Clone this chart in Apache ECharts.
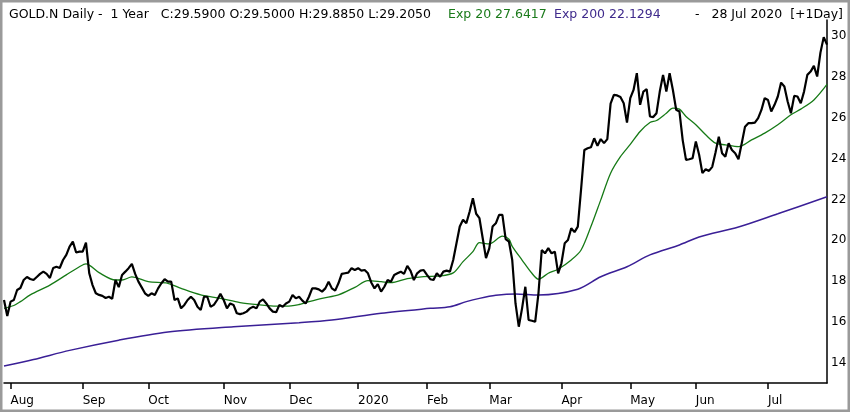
<!DOCTYPE html>
<html><head><meta charset="utf-8">
<script src="https://cdn.jsdelivr.net/npm/echarts@6/dist/echarts.min.js"></script>
<style>html,body{margin:0;padding:0;background:#fff}#c{width:850px;height:412px}</style>
</head><body><div id="c"></div>
<script>
// ---- data ----
const startDate = '2019-07-30';
const endDate = '2020-07-28';
const holidays = ['2019-09-02','2019-11-28','2019-12-25','2020-01-01','2020-01-20','2020-02-17','2020-04-10','2020-05-25','2020-07-03'];
const monthLabels = ['', 'Feb', 'Mar', 'Apr', 'May', 'Jun', 'Jul', 'Aug', 'Sep', 'Oct', 'Nov', 'Dec'];
const yTickLabels = [14, 16, 18, 20, 22, 24, 26, 28, 30];

const headerMain = 'GOLD.N Daily -  1 Year   C:29.5900 O:29.5000 H:29.8850 L:29.2050';
const headerExp20 = 'Exp 20 27.6417';
const headerExp200 = 'Exp 200 22.1294';
const headerDate = '-   28 Jul 2020  [+1Day]';

const closeVals = [
 17.07,16.29,16.99,17.07,17.56,17.66,18.05,18.20,18.10,18.05,
 18.20,18.35,18.46,18.35,18.15,18.64,18.70,18.64,19.03,19.28,
 19.69,19.93,19.40,19.44,19.44,19.88,18.38,17.80,17.40,17.32,
 17.27,17.17,17.23,17.13,18.05,17.70,18.30,18.46,18.63,18.84,
 18.35,17.97,17.69,17.40,17.27,17.40,17.32,17.64,17.89,18.09,
 17.97,17.97,17.07,17.15,16.66,16.83,17.07,17.23,17.07,16.74,
 16.58,17.23,17.23,16.74,16.83,17.07,17.37,17.07,16.66,16.90,
 16.83,16.42,16.38,16.42,16.50,16.66,16.74,16.66,16.99,17.10,
 16.90,16.66,16.50,16.47,16.83,16.74,16.90,16.99,17.32,17.15,
 17.23,17.04,16.90,17.23,17.64,17.64,17.59,17.48,17.64,17.97,
 17.64,17.53,17.89,18.35,18.38,18.41,18.63,18.54,18.63,18.51,
 18.54,18.38,17.93,17.64,17.85,17.48,17.72,18.05,17.97,18.30,
 18.38,18.46,18.35,18.74,18.50,18.05,18.38,18.51,18.54,18.30,
 18.09,18.05,18.38,18.21,18.46,18.51,18.46,19.03,19.85,20.67,
 21.00,20.83,21.40,22.06,21.30,21.08,20.10,19.12,19.60,20.67,
 20.83,21.24,21.24,20.05,19.93,19.03,16.90,15.76,16.66,17.72,
 16.09,16.05,16.00,17.40,19.52,19.36,19.61,19.36,19.44,18.38,
 18.87,19.85,20.01,20.59,20.40,20.67,22.50,24.43,24.51,24.56,
 25.00,24.63,24.96,24.76,24.96,26.70,27.13,27.10,27.02,26.72,
 25.77,26.97,27.37,28.19,26.64,27.29,27.41,26.07,26.04,26.23,
 27.29,28.11,27.29,28.19,27.37,26.40,26.31,24.90,23.94,23.97,
 24.02,24.84,24.19,23.29,23.48,23.40,23.60,24.30,25.08,24.27,
 24.10,24.76,24.43,24.27,23.97,24.76,25.57,25.74,25.74,25.77,
 25.99,26.39,26.97,26.88,26.31,26.64,27.05,27.73,27.54,26.80,
 26.23,27.08,27.05,26.72,27.29,28.11,28.27,28.55,28.03,29.20,
 29.96,29.59
];

// Exp 20 line, read at these trading-day positions
const ema20Day = [0,3,5,8,14,19,23,25,29,34,36,39,44,50,54,60,66,72,78,83,86,90,92,97,102,107,111,115,118,123,128,133,137,140,143,145,148,152,154,155,158,161,163,166,169,173,176,179,182,185,188,191,194,197,199,202,204,206,208,211,214,217,220,224,228,232,236,240,243,247,251];
const ema20Val = [16.66,16.80,16.99,17.32,17.80,18.30,18.70,18.84,18.41,18.05,18.05,18.20,17.97,17.89,17.64,17.32,17.15,16.94,16.83,16.77,16.77,16.85,16.94,17.15,17.32,17.69,18.02,17.97,17.92,18.12,18.22,18.25,18.40,18.95,19.44,19.88,19.82,20.20,20.05,19.70,19.03,18.38,18.09,18.38,18.58,19.03,19.52,20.67,21.98,23.29,24.10,24.70,25.33,25.77,25.87,26.23,26.48,26.43,26.07,25.66,25.17,24.76,24.68,24.59,24.92,25.25,25.66,26.15,26.43,26.88,27.64];

// Exp 200 line
const ema200Day = [0,9,20,35,50,70,90,100,115,130,136,141,145,150,156,163,175,182,190,197,206,212,224,236,251];
const ema200Val = [13.83,14.15,14.60,15.10,15.50,15.76,15.96,16.09,16.42,16.66,16.74,16.99,17.15,17.30,17.37,17.32,17.60,18.21,18.70,19.28,19.77,20.16,20.65,21.30,22.13];

// ---- trading calendar (category labels) ----
function buildDates() {
  const out = [];
  const d = new Date(startDate + 'T00:00:00Z');
  const end = new Date(endDate + 'T00:00:00Z');
  while (d <= end) {
    const s = d.toISOString().slice(0, 10);
    const wd = d.getUTCDay();
    if (wd !== 0 && wd !== 6 && holidays.indexOf(s) < 0) out.push(s);
    d.setUTCDate(d.getUTCDate() + 1);
  }
  return out;
}
const dates = buildDates();
function isMonthStart(i) {
  return i > 0 && dates[i].slice(5, 7) !== dates[i - 1].slice(5, 7);
}
function monthLabel(s) {
  const m = parseInt(s.slice(5, 7), 10) - 1;
  return m === 0 ? s.slice(0, 4) : monthLabels[m];
}

const FONT = 'DejaVu Sans';
const HFS = 12.5;
const chart = echarts.init(document.getElementById('c'), null, { renderer: 'canvas' });
chart.setOption({
  animation: false,
  backgroundColor: '#fff',
  textStyle: { fontFamily: FONT },
  title: [
    { left: 4, top: 3, text: headerMain,
      textStyle: { color: '#000', fontSize: HFS, fontWeight: 'normal', fontFamily: FONT } },
    { left: 443, top: 3, text: headerExp20,
      textStyle: { color: '#1a7a1a', fontSize: HFS, fontWeight: 'normal', fontFamily: FONT } },
    { left: 549, top: 3, text: headerExp200,
      textStyle: { color: '#3f2a8c', fontSize: HFS, fontWeight: 'normal', fontFamily: FONT } },
    { right: 2, top: 3, text: headerDate,
      textStyle: { color: '#000', fontSize: HFS, fontWeight: 'normal', fontFamily: FONT } }
  ],
  graphic: [{
    type: 'rect', silent: true, z: 100,
    shape: { x: 1.25, y: 1.25, width: 847.5, height: 409.5 },
    style: { fill: 'none', stroke: '#9a9a9a', lineWidth: 2.5 }
  }],
  grid: { left: 4, right: 23, top: 20, bottom: 29, containLabel: false },
  xAxis: {
    type: 'category',
    data: dates,
    boundaryGap: false,
    axisLine: { lineStyle: { color: '#000', width: 1.5 } },
    axisTick: { show: true, length: 6, interval: (i) => isMonthStart(i), lineStyle: { color: '#000', width: 1.5 } },
    axisLabel: {
      interval: (i) => isMonthStart(i),
      formatter: (v) => monthLabel(v),
      align: 'left', margin: 12, color: '#000', fontSize: 12, fontFamily: FONT,
      hideOverlap: false
    },
    splitLine: { show: false }
  },
  yAxis: {
    type: 'value',
    position: 'right',
    min: 13, max: 30.8, interval: 1,
    axisLine: { show: true, lineStyle: { color: '#000', width: 1.5 } },
    axisTick: { show: false },
    axisLabel: {
      margin: 4, color: '#000', fontSize: 12, fontFamily: FONT,
      showMaxLabel: false, showMinLabel: false,
      formatter: (v) => (yTickLabels.indexOf(v) >= 0 ? String(v) : '')
    },
    splitLine: { show: false }
  },
  series: [
    {
      name: 'Exp 200', type: 'line', symbol: 'none', smooth: 0.3, z: 2,
      data: ema200Day.map((d, k) => [d, ema200Val[k]]),
      lineStyle: { color: '#3a1f96', width: 1.5 }
    },
    {
      name: 'Exp 20', type: 'line', symbol: 'none', smooth: 0.3, z: 3,
      data: ema20Day.map((d, k) => [d, ema20Val[k]]),
      lineStyle: { color: '#167a16', width: 1.3 }
    },
    {
      name: 'GOLD.N', type: 'line', symbol: 'none', z: 4,
      data: closeVals,
      lineStyle: { color: '#000', width: 2.2 }
    }
  ]
});
</script></body></html>
